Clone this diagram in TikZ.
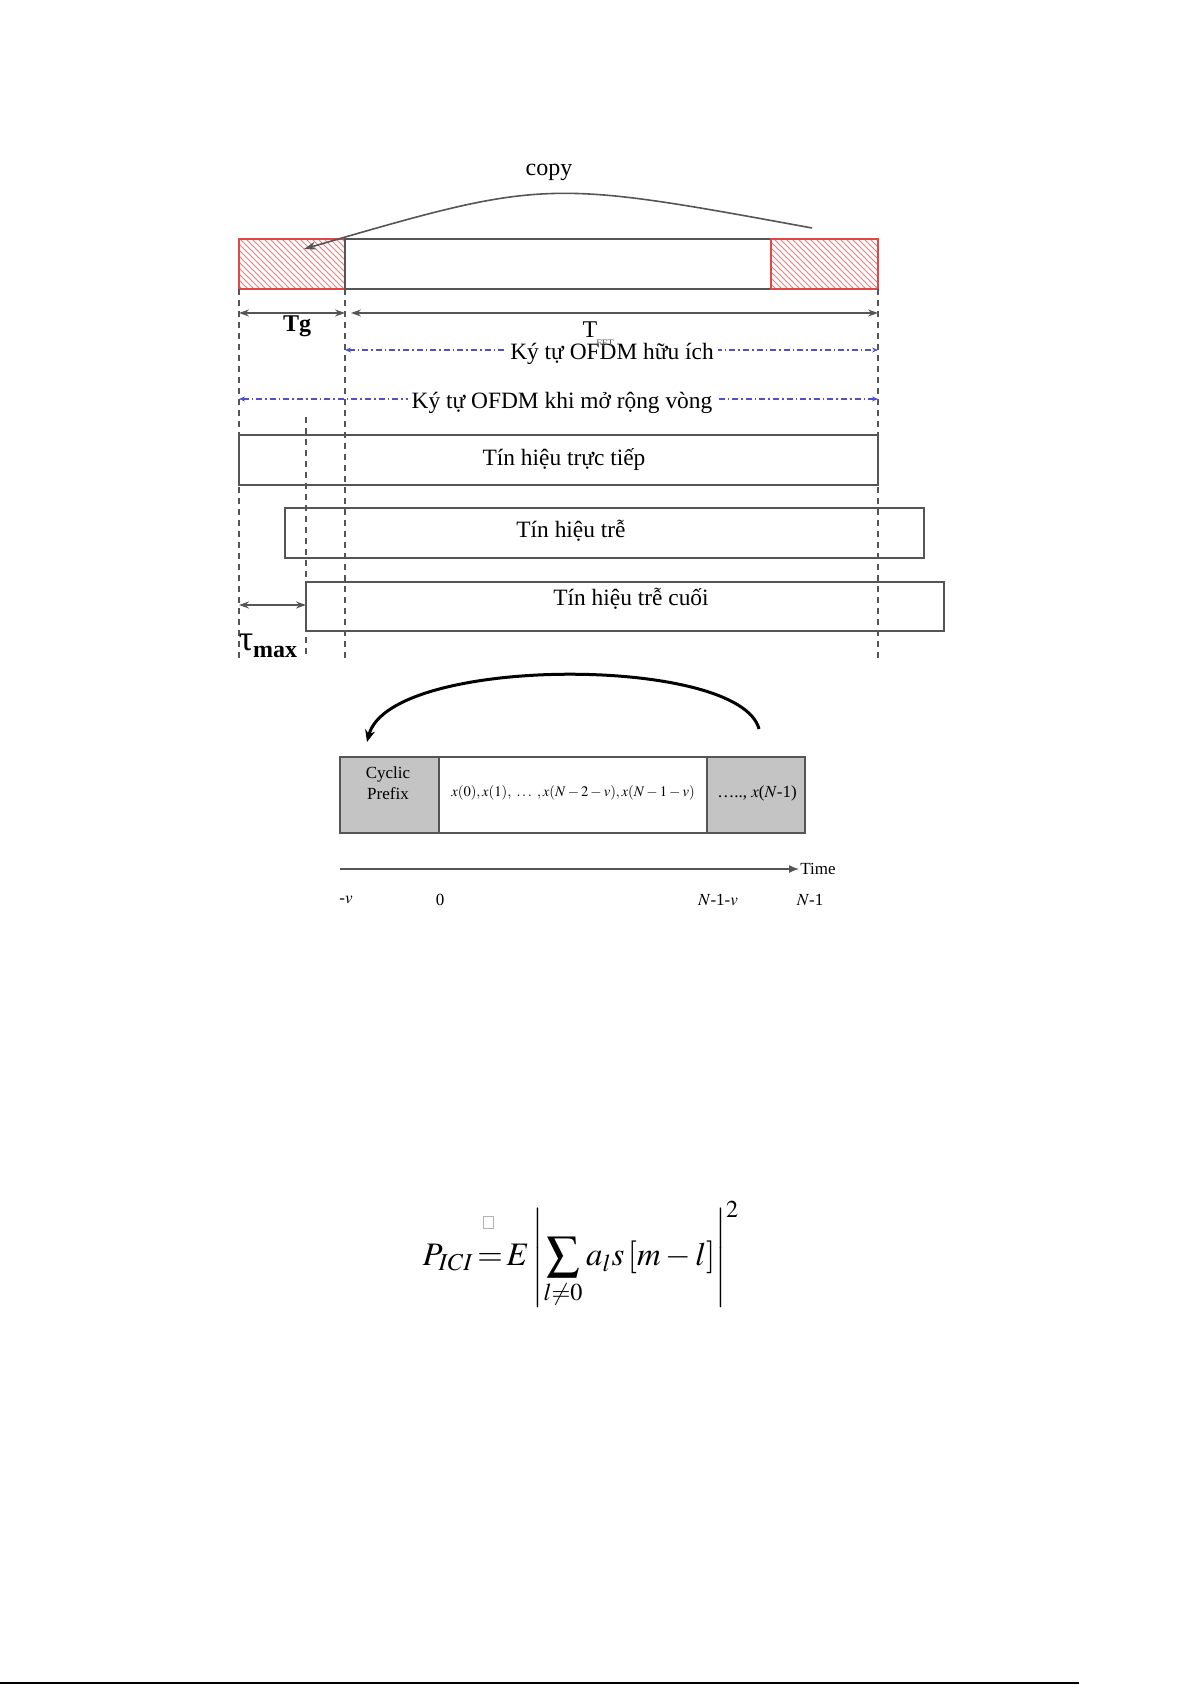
\documentclass[tikz,border=0pt]{standalone}
\usepackage{mathptmx}
\usepackage[no-math]{fontspec}
\setmainfont{Liberation Serif}
\usetikzlibrary{patterns,arrows.meta}
\definecolor{lineg}{HTML}{555555}
\definecolor{hatchred}{HTML}{E04848}
\definecolor{dimblue}{HTML}{5050C8}
\definecolor{cpgray}{HTML}{C4C4C4}
\begin{document}
\begin{tikzpicture}[x=0.5pt,y=-0.5pt,
  hatchbox/.style={draw=hatchred, line width=0.6pt, pattern=north west lines, pattern color=hatchred!70, minimum height=25pt, inner sep=0pt, outer sep=0pt},
  plainbox/.style={draw=lineg, line width=0.9pt, fill=white, minimum height=25pt, inner sep=0pt, outer sep=0pt},
  sigbox/.style={draw=lineg, line width=0.9pt, minimum height=25pt, inner sep=0pt, outer sep=0pt},
  vdash/.style={draw=lineg, line width=0.6pt, dash pattern=on 3pt off 2.5pt},
  dimarrow/.style={draw=lineg, line width=0.8pt, {Stealth[length=5pt,width=3.5pt]}-{Stealth[length=5pt,width=3.5pt]}},
  bluedim/.style={draw=dimblue, line width=0.6pt, dash pattern=on 3pt off 1.5pt on 0.8pt off 1.5pt, {Stealth[length=3pt,width=2.5pt]}-{Stealth[length=3pt,width=2.5pt]}},
  lbl/.style={inner sep=1pt, font=\fontsize{11.7}{14}\selectfont},
  bluelbl/.style={inner sep=2pt, fill=white, font=\fontsize{11.7}{14}\selectfont},
  small/.style={inner sep=1pt, font=\fontsize{8.5}{10.2}\selectfont},
  cpbox/.style={draw=lineg, line width=0.6pt, fill=cpgray, minimum height=38pt, inner sep=0pt, outer sep=0pt},
  databox/.style={draw=lineg, line width=0.6pt, fill=white, minimum height=38pt, inner sep=0pt, outer sep=0pt}
]
\useasboundingbox (0,0) rectangle (1192,1685);

% ---------- top OFDM symbol ----------
\node[hatchbox, minimum width=53pt] (cpL) at (292,264) {};
\node[plainbox, minimum width=213pt] (useful) at (558,264) {};
\node[hatchbox, minimum width=53.5pt] (cpR) at (824.5,264) {};

% copy arrow
\coordinate (cs) at (812,228);
\coordinate (ce) at (304,249);
\draw[draw=lineg, line width=0.8pt, -{Stealth[length=6pt,width=4pt]}] (cs) .. controls (545,179) .. (ce);
\node[lbl, font=\fontsize{12}{14}\selectfont] (copy) at (549,172) {copy};

% dashed vertical guides
\coordinate (g1b) at (239,658);
\coordinate (g2b) at (345,658);
\coordinate (g3b) at (878,658);
\coordinate (g4t) at (306,417);
\coordinate (g4b) at (306,658);
\draw[vdash] (cpL.south west) -- (g1b);
\draw[vdash] (cpL.south east) -- (g2b);
\draw[vdash] (cpR.south east) -- (g3b);
\draw[vdash] (g4t) -- (g4b);

% Tg and T_FFT
\coordinate (tg1) at (239,313);
\coordinate (tg2) at (345,313);
\coordinate (tf1) at (351,313);
\coordinate (tf2) at (878,313);
\draw[dimarrow] (tg1) -- (tg2);
\draw[dimarrow] (tf1) -- (tf2);
\node[lbl, font=\bfseries\fontsize{12}{14}\selectfont] (tg) at (297,326) {Tg};
\node[lbl, font=\fontsize{12}{14}\selectfont] (tT) at (590,330) {T};

% blue dimension lines
\coordinate (u1) at (345,350);
\coordinate (u2) at (878,350);
\draw[bluedim] (u1) -- (u2);
\node[bluelbl] (uselbl) at (612,354) {Ký tự OFDM hữu ích};
\node[inner sep=0pt, font=\fontsize{5}{6}\selectfont, text=lineg] (fft) at (605,343) {FFT};
\coordinate (e1) at (239,399);
\coordinate (e2) at (878,399);
\draw[bluedim] (e1) -- (e2);
\node[bluelbl] (extlbl) at (562,403) {Ký tự OFDM khi mở rộng vòng};

% received signals
\node[sigbox, minimum width=319.5pt] (direct) at (558.5,460) {};
\node[lbl] (directlbl) at (564,460) {Tín hiệu trực tiếp};
\node[sigbox, minimum width=319.5pt] (delay) at (604.5,533) {};
\node[lbl] (delaylbl) at (571,531) {Tín hiệu trễ};
\node[sigbox, minimum width=319pt, minimum height=24.5pt] (last) at (625,606.5) {};
\node[lbl] (lastlbl) at (631,599) {Tín hiệu trễ cuối};

% tau max
\coordinate (ta1) at (239,605);
\coordinate (ta2) at (306,605);
\draw[dimarrow] (ta1) -- (ta2);
\node[inner sep=0pt] (tau) at (268,646) {\fontsize{18}{20}\selectfont τ\raisebox{-0.45ex}{\fontsize{12}{14}\selectfont\bfseries max}};

% ---------- lower cyclic prefix figure ----------
\node[cpbox, minimum width=49.5pt] (cp) at (389.5,795) {};
\node[databox, minimum width=134pt] (data) at (573,795) {};
\node[cpbox, minimum width=49pt] (tail) at (756,795) {};
\node[small, align=center] (cptext) at (388,783) {Cyclic\\Prefix};
\node[small, font=\fontsize{7.3}{9}\selectfont] (datatext) at (573,793) {$x(0), x(1),\ \dots\ , x(N-2-v), x(N-1-v)$};
\node[small] (tailtext) at (757,793) {\ldots.., $x$($N$-1)};

\coordinate (a1) at (759,729);
\coordinate (a2) at (367,742);
\draw[black, line width=1.5pt, -{Stealth[length=6pt,width=5pt]}] (a1) .. controls (740,655) and (390,655) .. (a2);

\coordinate (t1) at (340,869);
\coordinate (t2) at (799,869);
\draw[draw=lineg, line width=0.7pt, -{Latex[length=5pt,width=4pt]}] (t1) -- (t2);
\node[small, anchor=west, inner sep=0.5pt] (time) at (t2) {Time};

\node[small] (lv) at (346,900) {-$v$};
\node[small] (l0) at (440,900) {0};
\node[small] (lnv) at (718,900) {$N$-1-$v$};
\node[small] (ln) at (810,900) {$N$-1};

% ---------- formula ----------
\node[inner sep=0pt] (formula) at (581,1255) {\fontsize{16.4}{20}\selectfont$\displaystyle P_{ICI}\!=\!E\left|\sum_{l\neq 0} a_l s\left[m-l\right]\right|^2$};
\node[draw=gray!60, line width=0.4pt, minimum width=5pt, minimum height=6pt, inner sep=0pt] (glyph) at (488,1222) {};

% bottom rule
\coordinate (b1) at (0,1683);
\coordinate (b2) at (1079,1683);
\draw[black, line width=1.2pt] (b1) -- (b2);
\end{tikzpicture}
\end{document}
